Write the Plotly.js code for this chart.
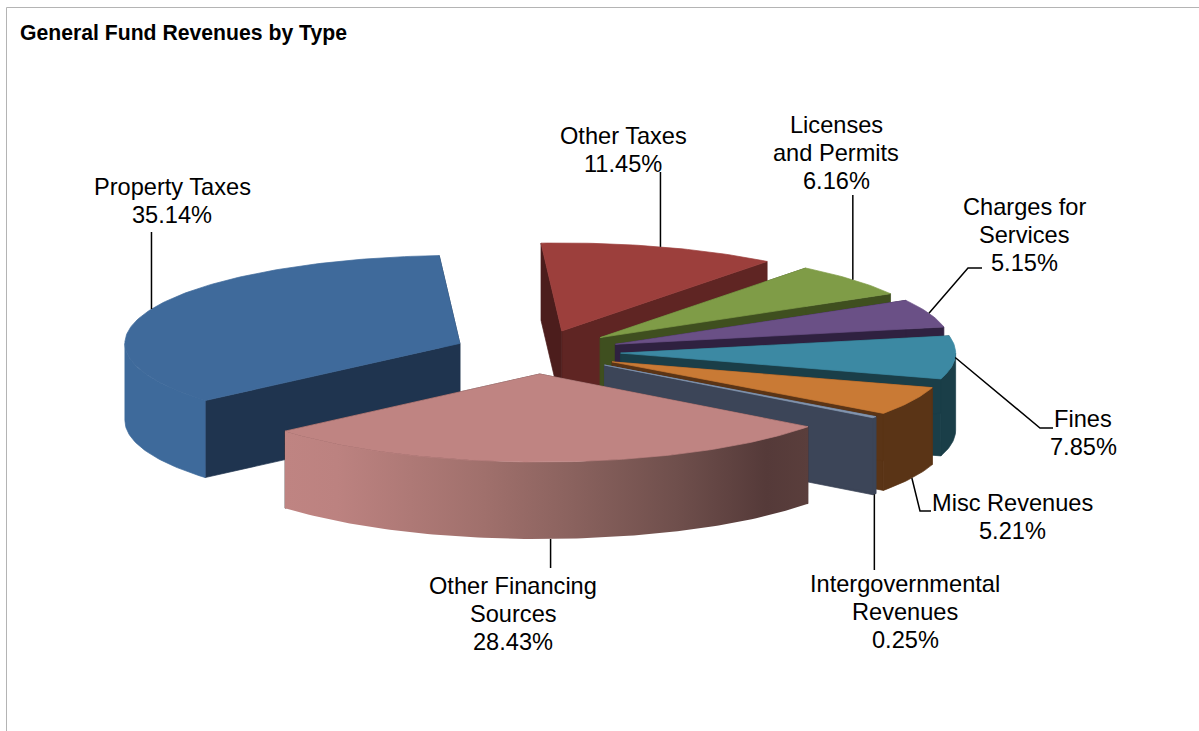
<!DOCTYPE html>
<html>
<head>
<meta charset="utf-8">
<title>General Fund Revenues by Type</title>
<script src="https://cdn.plot.ly/plotly-3.0.1.min.js"></script>
<style>html,body{margin:0;padding:0;background:#fff}</style>
</head>
<body>
<div id="chart" style="width:1199px;height:731px"></div>
<script>
// Revenue shares, clockwise from the start angle
const categories = ["Property Taxes", "Other Taxes", "Licenses<br>and Permits", "Charges for<br>Services",
  "Fines", "Misc Revenues", "Intergovernmental<br>Revenues", "Other Financing<br>Sources"];
const shares = [35.14, 11.45, 6.16, 5.15, 7.85, 5.21, 0.25, 28.43];

// Slice styling
const topColors = ["#3f6a9b", "#9c3f3c", "#7f9c47", "#6a5086", "#3c89a3", "#c97a35", "#8496b0", "#bf8482"];
const endCutColors = ["#1f344f", "#5f2523", "#3f4f1f", "#2f2140", "#1a3e48", "#5a3416", "#3c4558", "#4a3030"];
const startCutColors = ["#1f344f", "#4c1d1c", "#3f4f1f", "#2f2140", "#1a3e48", "#5a3416", "#3c4558", "#4a3030"];
const rimColors = ["#3e6a9b", "#5f2523", "#3f4f1f", "#2f2140", "#1a3e48", "#5a3416", "#3c4558", null];
const rimGradient = [[0, "#bf8482"], [0.1, "#bc8280"], [0.38, "#a0706c"], [0.55, "#8a625e"], [0.75, "#6f4f4c"], [0.92, "#553a39"], [1, "#5a3e3c"]];

// Projection of the tilted pie onto the page
const centre = {x: 537, y: 352};
const radiusX = 335, radiusY = 88, depth = 77, explode = 0.25, startAngle = 229.5;

// Label placement: text centre and first-line height, then the leader's way-points
// out from the slice (a null x keeps the segment vertical)
const labelX = [172, 623, 836, 1024, 1083, 1012, 905, 513];
const labelY = [187, 136, 125, 207, 419, 503, 584, 586];
const lineStep = 27.8;
const leaderPath = [[[null, 232]], [[null, 172]], [[null, 195]], [[968, 268], [982, 268]],
  [[1040, 428], [1053, 428]], [[920, 511], [931, 511]], [[null, 570]], [[null, 568]]];
const leaderDrop = [0, 0, 0, 0, 0, 1, 1, 1];

const rad = d => d * Math.PI / 180;
const total = shares.reduce((a, b) => a + b, 0);

let cursor = startAngle;
const slices = shares.map((v, i) => {
  const a0 = cursor, a1 = cursor + v / total * 360;
  cursor = a1;
  const mid = (a0 + a1) / 2;
  // Angles past a full turn are brought back so the front half is a single range
  const turn = mid >= 360 ? 360 : 0;
  return {
    i, a0: a0 - turn, a1: a1 - turn, mid: mid - turn,
    ax: centre.x + explode * radiusX * Math.sin(rad(mid)),
    ay: centre.y - explode * radiusY * Math.cos(rad(mid))
  };
});

function arc(s, from, to, drop, reverse) {
  const pts = [];
  const n = Math.max(2, Math.ceil(to - from));
  for (let k = 0; k <= n; k++) {
    const a = from + (to - from) * k / n;
    pts.push([s.ax + radiusX * Math.sin(rad(a)), s.ay - radiusY * Math.cos(rad(a)) + drop]);
  }
  return reverse ? pts.reverse() : pts;
}

function poly(pts, name, color, gradient) {
  const closed = pts.concat([pts[0]]);
  const t = {
    type: "scatter", mode: "lines", name,
    x: closed.map(p => p[0]), y: closed.map(p => p[1]),
    fill: "toself",
    // A hairline in the fill colour closes the seams between adjoining faces
    line: gradient ? {width: 0} : {width: 0.7, color},
    hoverinfo: "skip", showlegend: false
  };
  if (gradient) {
    t.fillgradient = {type: "horizontal", colorscale: gradient};
  } else {
    t.fillcolor = color;
  }
  return t;
}

function cutWall(s, angle, name, color) {
  const ex = s.ax + radiusX * Math.sin(rad(angle));
  const ey = s.ay - radiusY * Math.cos(rad(angle));
  return poly([[s.ax, s.ay], [ex, ey], [ex, ey + depth], [s.ax, s.ay + depth]], name, color);
}

// Painter's order: slices further back go down first
const traces = [];
[...slices].sort((p, q) => p.ay - q.ay).forEach(s => {
  const name = categories[s.i].replace("<br>", " ");
  traces.push(cutWall(s, s.a1, name + " cut", endCutColors[s.i]));
  traces.push(cutWall(s, s.a0, name + " cut", startCutColors[s.i]));
  // Only the front half of the outer wall can be seen
  const from = Math.max(s.a0, 90), to = Math.min(s.a1, 270);
  if (to > from) {
    traces.push(poly(arc(s, from, to, 0, false).concat(arc(s, from, to, depth, true)), name + " rim",
      rimColors[s.i], rimColors[s.i] ? null : rimGradient));
  }
  traces.push(poly([[s.ax, s.ay]].concat(arc(s, s.a0, s.a1, 0, false)), name, topColors[s.i]));
});

// Leader lines start on the slice's outer edge at its mid angle
slices.forEach(s => {
  const x0 = s.ax + radiusX * Math.sin(rad(s.mid));
  const y0 = s.ay - radiusY * Math.cos(rad(s.mid)) + leaderDrop[s.i] * depth;
  const path = [[x0, y0]].concat(leaderPath[s.i].map(p => [p[0] === null ? x0 : p[0], p[1]]));
  traces.push({
    type: "scatter", mode: "lines", name: categories[s.i].replace("<br>", " ") + " leader",
    x: path.map(p => p[0]), y: path.map(p => p[1]),
    line: {color: "#000", width: 1.5}, hoverinfo: "skip", showlegend: false
  });
});

// Each label line is placed on its own to hold a tight line pitch
const annotations = [];
slices.forEach(s => {
  const lines = categories[s.i].split("<br>").concat([shares[s.i].toFixed(2) + "%"]);
  lines.forEach((text, k) => annotations.push({
    xref: "x", yref: "y", x: labelX[s.i], y: labelY[s.i] + k * lineStep,
    xanchor: "center", yanchor: "middle", showarrow: false, align: "center", text,
    font: {family: "Liberation Sans, Arial, sans-serif", size: 23.6, color: "#000"}
  }));
});

const axis = {visible: false, fixedrange: true, showgrid: false, zeroline: false};
const layout = {
  width: 1199, height: 731,
  margin: {l: 0, r: 0, t: 0, b: 0},
  paper_bgcolor: "#fff", plot_bgcolor: "#fff",
  showlegend: false, hovermode: false,
  title: {
    text: "<b>General Fund Revenues by Type</b>",
    x: 20 / 1199, xanchor: "left", y: 1 - 33 / 731, yanchor: "middle",
    font: {family: "Liberation Sans, Arial, sans-serif", size: 21.2, color: "#000"}
  },
  xaxis: Object.assign({range: [0, 1199]}, axis),
  yaxis: Object.assign({range: [731, 0]}, axis),
  annotations,
  shapes: [
    {type: "line", xref: "x", yref: "y", x0: 6.5, x1: 6.5, y0: 7.5, y1: 731, line: {color: "#b4b4b4", width: 1}},
    {type: "line", xref: "x", yref: "y", x0: 6.5, x1: 1199, y0: 7.5, y1: 7.5, line: {color: "#b4b4b4", width: 1}}
  ]
};

Plotly.newPlot("chart", traces, layout, {displayModeBar: false, staticPlot: true});
</script>
</body>
</html>
